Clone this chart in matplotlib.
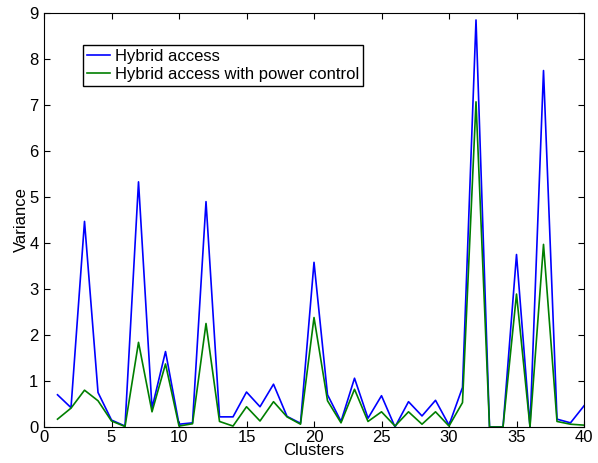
import numpy as np
import matplotlib
matplotlib.use('Agg')
import matplotlib.pyplot as plt

plt.rcParams['font.family'] = ['Liberation Sans', 'DejaVu Sans']

# data
clusters = list(range(1, 41))
hybrid = [0.70, 0.42, 4.47, 0.75, 0.15, 0.02, 5.33, 0.41, 1.64, 0.06,
          0.09, 4.90, 0.22, 0.22, 0.76, 0.44, 0.93, 0.23, 0.08, 3.58,
          0.70, 0.12, 1.06, 0.19, 0.68, 0.00, 0.55, 0.24, 0.58, 0.04,
          0.86, 8.85, 0.00, 0.00, 3.75, 0.00, 7.75, 0.17, 0.09, 0.46]
hybrid_pc = [0.17, 0.41, 0.80, 0.57, 0.13, 0.01, 1.84, 0.33, 1.37, 0.02,
             0.07, 2.25, 0.12, 0.02, 0.44, 0.13, 0.55, 0.22, 0.06, 2.38,
             0.57, 0.09, 0.82, 0.12, 0.33, 0.02, 0.33, 0.06, 0.33, 0.02,
             0.53, 7.07, 0.00, 0.00, 2.89, 0.00, 3.97, 0.12, 0.06, 0.04]

fig = plt.figure(figsize=(5.98, 4.63), dpi=100)
ax = fig.add_axes([0.0736, 0.0778, 0.903, 0.894])

ax.plot(clusters, hybrid, color='#0000ff', lw=1.2, label='Hybrid access')
ax.plot(clusters, hybrid_pc, color='#007f00', lw=1.2, label='Hybrid access with power control')

ax.set_xlim(0, 40)
ax.set_ylim(0, 9)
ax.set_xticks(range(0, 41, 5))
ax.set_yticks(range(0, 10))
ax.tick_params(direction='in', top=True, right=True, labelsize=12, length=4)
ax.tick_params(axis='x', pad=2)
ax.tick_params(axis='y', pad=4)
ax.set_xlabel('Clusters', fontsize=12, labelpad=-1)
ax.set_ylabel('Variance', fontsize=12, labelpad=0)

leg = ax.legend(loc='upper left', bbox_to_anchor=(0.072, 0.923), fontsize=12,
                fancybox=False, edgecolor='black', framealpha=1, borderaxespad=0,
                handlelength=1.4, borderpad=0.25, labelspacing=0.15, handletextpad=0.25)
leg.get_frame().set_linewidth(1.0)

plt.savefig('out.png', dpi=100)
